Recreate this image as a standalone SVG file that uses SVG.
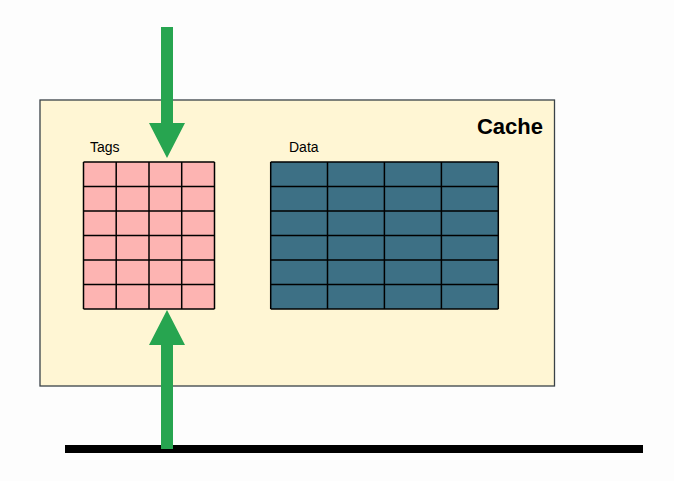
<svg xmlns="http://www.w3.org/2000/svg" width="674" height="481" viewBox="0 0 674 481">
  <style>
    .lbl { font-family: "Liberation Sans", Arial, sans-serif; font-size: 14px; fill: #000; }
    .title { font-family: "Liberation Sans", Arial, sans-serif; font-size: 22px; font-weight: bold; fill: #000; }
    .grid { stroke: #000; stroke-width: 1.5; fill: none; }
    .arrow { fill: #27a550; }
  </style>
  <rect x="0" y="0" width="674" height="481" fill="#fdfdfd"/>
  <g id="cache">
    <rect x="40" y="100" width="514.5" height="286" fill="#fff6d4" stroke="#3a4248" stroke-width="1.3"/>
    <text class="title" x="543" y="133.5" text-anchor="end">Cache</text>
  </g>
  <g id="tags">
    <text class="lbl" x="90" y="152">Tags</text>
    <rect x="83.5" y="162" width="131" height="147" fill="#fdb4b2"/>
    <path class="grid" d="M83.5 162V309M116.2 162V309M149 162V309M181.7 162V309M214.5 162V309M83.5 162H214.5M83.5 186.5H214.5M83.5 211H214.5M83.5 235.5H214.5M83.5 260H214.5M83.5 284.5H214.5M83.5 309H214.5"/>
  </g>
  <g id="data">
    <text class="lbl" x="289" y="152">Data</text>
    <rect x="270.7" y="162" width="227.6" height="147" fill="#3d7085"/>
    <path class="grid" d="M270.7 162V309M327.5 162V309M384.4 162V309M441.4 162V309M498.3 162V309M270.7 162H498.3M270.7 186.5H498.3M270.7 211H498.3M270.7 235.5H498.3M270.7 260H498.3M270.7 284.5H498.3M270.7 309H498.3"/>
  </g>
  <g id="bus">
    <rect x="65" y="445" width="578" height="8" fill="#000"/>
  </g>
  <g id="connectors">
    <polygon class="arrow" points="161,27 173,27 173,123 185,123 167,158 149,123 161,123"/>
    <polygon class="arrow" points="167,310 185,345 173,345 173,449 161,449 161,345 149,345"/>
  </g>
</svg>
